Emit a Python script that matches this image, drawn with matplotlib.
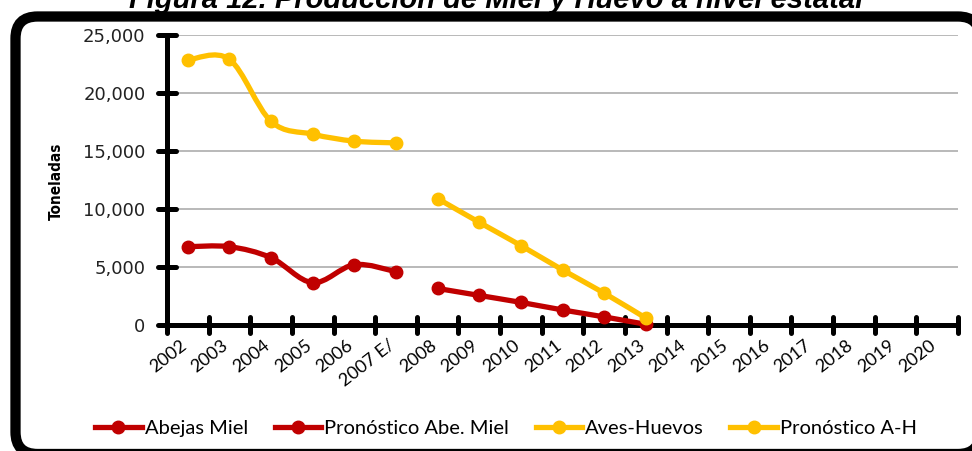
import numpy as np
import matplotlib
matplotlib.use("Agg")
import matplotlib.pyplot as plt
from matplotlib.path import Path
from matplotlib.patches import PathPatch, FancyBboxPatch
from matplotlib.lines import Line2D
from matplotlib.markers import MarkerStyle
from matplotlib.ticker import FixedLocator, NullFormatter, FixedFormatter

# ---------------- data ----------------
years = ['2002', '2003', '2004', '2005', '2006', '2007 E/', '2008', '2009', '2010',
         '2011', '2012', '2013', '2014', '2015', '2016', '2017', '2018', '2019', '2020']
abejas_idx = [0, 1, 2, 3, 4, 5]
abejas = [6750, 6750, 5800, 3650, 5200, 4600]
pron_abejas_idx = [6, 7, 8, 9, 10, 11]
pron_abejas = [3150, 2550, 1950, 1300, 700, 60]
aves_idx = [0, 1, 2, 3, 4, 5]
aves = [22850, 22900, 17550, 16450, 15850, 15700]
pron_aves_idx = [6, 7, 8, 9, 10, 11]
pron_aves = [10900, 8850, 6850, 4750, 2750, 600]
yticks = [0, 5000, 10000, 15000, 20000, 25000]
ytick_labels = ['0', '5,000', '10,000', '15,000', '20,000', '25,000']

RED = '#C00000'
YEL = '#FFC000'

W, H = 972, 451
fig = plt.figure(figsize=(W / 100, H / 100), dpi=100)
fig.patch.set_facecolor('white')

# rounded frame
frame = FancyBboxPatch((0.155, -0.03), 9.80 - 0.155, 4.345 + 0.03,
                       boxstyle='round,pad=0,rounding_size=0.22',
                       transform=fig.dpi_scale_trans, facecolor='white',
                       edgecolor='black', linewidth=7.4, zorder=-5)
fig.patches.append(frame)

fig.text(496 / W, 1 - 8.5 / H, 'Figura 12. Producción de Miel y Huevo a nivel estatal',
         ha='center', va='baseline', fontsize=21, fontweight='bold', fontstyle='italic',
         family=['Liberation Sans', 'DejaVu Sans'], zorder=5)

ax = fig.add_axes([167 / W, 1 - 325 / H, (958 - 167) / W, (325 - 35) / H])
ax.set_facecolor('none')
ax.set_xlim(-0.5, len(years) - 0.5)
ax.set_ylim(0, 25000)


def smooth(xs, ys):
    P = np.column_stack([np.asarray(xs, float), np.asarray(ys, float)])
    n = len(P)
    verts = [P[0]]
    codes = [Path.MOVETO]
    for i in range(n - 1):
        p0 = P[i - 1] if i > 0 else P[i]
        p1 = P[i]
        p2 = P[i + 1]
        p3 = P[i + 2] if i + 2 < n else P[i + 1]
        c1 = p1 + (p2 - p0) / 6
        c2 = p2 - (p3 - p1) / 6
        verts += [c1, c2, p2]
        codes += [Path.CURVE4] * 3
    return Path(verts, codes)


LW = 3.8
MS = 9
for xs, ys, col in [(abejas_idx, abejas, RED), (pron_abejas_idx, pron_abejas, RED),
                    (aves_idx, aves, YEL), (pron_aves_idx, pron_aves, YEL)]:
    ax.add_patch(PathPatch(smooth(xs, ys), fill=False, edgecolor=col, lw=LW,
                           capstyle='round', joinstyle='round', zorder=3, clip_on=False))
    ax.plot(xs, ys, 'o', color=col, markersize=MS, zorder=4, clip_on=False)

# axes styling
for s in ['top', 'right']:
    ax.spines[s].set_visible(False)
for s in ['left', 'bottom']:
    ax.spines[s].set_linewidth(3.6)
    ax.spines[s].set_color('black')
    ax.spines[s].set_capstyle('round')

ax.yaxis.set_major_locator(FixedLocator(yticks))
ax.yaxis.set_major_formatter(FixedFormatter(ytick_labels))
ax.tick_params(axis='y', direction='inout', length=13, width=3.6, pad=9,
               labelsize=13, colors='black')
for t in ax.get_yticklabels():
    t.set_family(['DejaVu Sans'])
    t.set_color('#222222')

ax.grid(axis='y', color='#a6a6a6', linewidth=1.1, zorder=0)
ax.set_axisbelow(True)

ax.xaxis.set_major_locator(FixedLocator(np.arange(len(years) + 1) - 0.5))
ax.xaxis.set_major_formatter(NullFormatter())
ax.xaxis.set_minor_locator(FixedLocator(np.arange(len(years))))
ax.xaxis.set_minor_formatter(FixedFormatter(years))
ax.tick_params(axis='x', which='major', direction='inout', length=11, width=3.6)
ax.tick_params(axis='x', which='minor', length=0, pad=16, labelsize=13)
for t in ax.xaxis.get_minorticklabels():
    t.set_rotation(38)
    t.set_ha('right')
    t.set_va('baseline')
    t.set_rotation_mode('anchor')
    t.set_family(['Lato', 'DejaVu Sans'])

for tk in ax.xaxis.get_major_ticks() + ax.yaxis.get_major_ticks():
    for ln in (tk.tick1line, tk.tick2line):
        ln.set_marker(MarkerStyle(ln.get_marker(), capstyle='round'))

ax.set_ylabel('Toneladas', fontsize=11, fontweight='bold', fontstretch='condensed',
              family=['Liberation Sans Narrow', 'DejaVu Sans'])
ax.yaxis.set_label_coords(64 / W, 1 - 181 / H, transform=fig.transFigure)

handles = [Line2D([], [], color=RED, lw=LW, marker='o', markersize=MS),
           Line2D([], [], color=RED, lw=LW, marker='o', markersize=MS),
           Line2D([], [], color=YEL, lw=LW, marker='o', markersize=MS),
           Line2D([], [], color=YEL, lw=LW, marker='o', markersize=MS)]
labels = ['Abejas Miel', 'Pronóstico Abe. Miel', 'Aves-Huevos', 'Pronóstico A-H']
fig.legend(handles, labels, loc='center', bbox_to_anchor=(506 / W, 1 - 428 / H),
           ncol=4, frameon=False, handlelength=2.3, handletextpad=0.15,
           columnspacing=1.33, prop={'family': ['Lato', 'DejaVu Sans'], 'size': 14.5})

fig.savefig('out.png', dpi=100)
